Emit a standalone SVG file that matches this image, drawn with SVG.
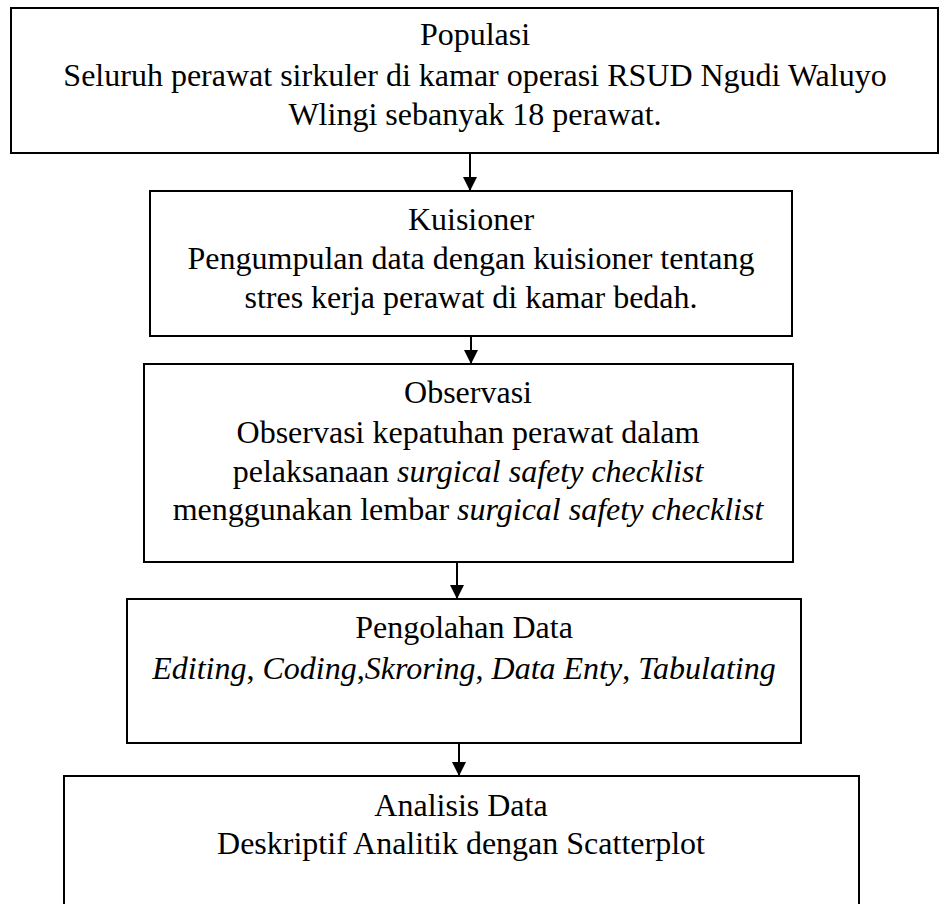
<svg xmlns="http://www.w3.org/2000/svg" width="940" height="904" viewBox="0 0 940 904">
<defs>
<style>
.box{fill:#fff;stroke:#000;stroke-width:2}
.t{font-family:"Liberation Serif","Times New Roman",serif;font-size:32px;fill:#000;text-anchor:middle}
.i{font-style:italic}
.c{stroke:#000;stroke-width:2;fill:none}
</style>
<marker id="ah" markerWidth="14" markerHeight="14" refX="14" refY="7" orient="auto" markerUnits="userSpaceOnUse">
<path d="M0,0 L14,7 L0,14 Z" fill="#000"/>
</marker>
</defs>
<rect width="940" height="904" fill="#fff"/>
<g id="populasi">
<rect class="box" x="11" y="8" width="927" height="145"/>
<text class="t" x="475" y="45">Populasi</text>
<text class="t" x="475" y="86">Seluruh perawat sirkuler di kamar operasi RSUD Ngudi Waluyo</text>
<text class="t" x="475" y="125">Wlingi sebanyak 18 perawat.</text>
</g>
<g id="kuisioner">
<rect class="box" x="150" y="191" width="642" height="145"/>
<text class="t" x="471" y="230">Kuisioner</text>
<text class="t" x="471" y="269">Pengumpulan data dengan kuisioner tentang</text>
<text class="t" x="471" y="308">stres kerja perawat di kamar bedah.</text>
</g>
<g id="observasi">
<rect class="box" x="144" y="364" width="649" height="198"/>
<text class="t" x="468" y="403">Observasi</text>
<text class="t" x="468" y="443">Observasi kepatuhan perawat dalam</text>
<text class="t" x="468" y="482">pelaksanaan <tspan class="i">surgical safety checklist</tspan></text>
<text class="t" x="468" y="520">menggunakan lembar <tspan class="i">surgical safety checklist</tspan></text>
</g>
<g id="pengolahan">
<rect class="box" x="127" y="599" width="674" height="144"/>
<text class="t" x="464" y="638">Pengolahan Data</text>
<text class="t i" x="464" y="679">Editing<tspan font-style="normal">, </tspan>Coding<tspan font-style="normal">,</tspan>Skroring<tspan font-style="normal">, </tspan>Data Enty<tspan font-style="normal">, </tspan>Tabulating</text>
</g>
<g id="analisis">
<rect class="box" x="64" y="776" width="795" height="140"/>
<text class="t" x="461" y="816">Analisis Data</text>
<text class="t" x="461" y="854">Deskriptif Analitik dengan Scatterplot</text>
</g>
<g id="connectors">
<line class="c" x1="470" y1="153" x2="470" y2="191" marker-end="url(#ah)"/>
<line class="c" x1="471" y1="336" x2="471" y2="364" marker-end="url(#ah)"/>
<line class="c" x1="457" y1="562" x2="457" y2="599" marker-end="url(#ah)"/>
<line class="c" x1="459" y1="743" x2="459" y2="776" marker-end="url(#ah)"/>
</g>
</svg>
